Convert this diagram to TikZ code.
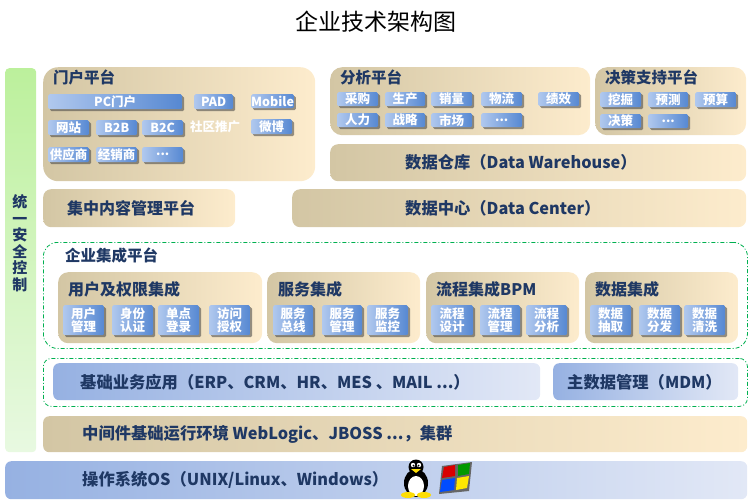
\documentclass[tikz,border=0pt]{standalone}
\usepackage{fontspec}
\setmainfont{Noto Sans CJK SC}
\usetikzlibrary{positioning, shadows}

\definecolor{navy}{RGB}{31,56,100}
\definecolor{tanL}{RGB}{211,198,164}
\definecolor{tanR}{RGB}{253,236,205}
\definecolor{blueL}{RGB}{150,177,226}
\definecolor{blueR}{RGB}{226,232,246}
\definecolor{btnL}{RGB}{176,200,238}
\definecolor{btnR}{RGB}{86,136,210}
\definecolor{greenT}{RGB}{188,240,156}
\definecolor{greenB}{RGB}{232,249,225}
\definecolor{frameC}{RGB}{0,176,80}

\tikzset{
	panel/.style={left color=tanL, right color=tanR, rounded corners=12pt, anchor=north west, inner sep=0pt},
	layer/.style={left color=blueL, right color=blueR, rounded corners=6pt, anchor=north west, inner sep=0pt},
	dashframe/.style={draw=frameC, line width=.8pt, dash pattern=on 4pt off 2pt on 1pt off 2pt, rounded corners=14pt, anchor=north west, inner sep=0pt},
	btn/.style={left color=btnL, right color=btnR, rounded corners=1.5pt, anchor=north west, inner sep=0pt,
		minimum width=41, minimum height=15, text=white, font=\fontsize{12.5}{13.5}\selectfont\bfseries,
		drop shadow={shadow xshift=2pt, shadow yshift=-2pt, opacity=.55, fill=black!75}},
	btnii/.style={btn, minimum height=30, align=center},
	head/.style={text=navy, font=\fontsize{15.5}{17}\selectfont\bfseries, anchor=west, inner sep=0pt},
	bar/.style={text=navy, font=\fontsize{16.3}{17}\selectfont\bfseries, anchor=west, inner sep=0pt}
}

\begin{document}
\begin{tikzpicture}[x=1pt, y=-1pt]
	\useasboundingbox (0,0) rectangle (752,499);
	\node[font=\fontsize{23}{25}\selectfont] (title) at (376,22) {企业技术架构图};
	% security bar
	\node[top color=greenT, bottom color=greenB, rounded corners=4pt, anchor=north west, minimum width=31, minimum height=384] (sec) at (5,68) {};
	\node[text=navy, font=\fontsize{15}{16.5}\selectfont\bfseries, align=center] (secT) at (20,243) {统\\一\\安\\全\\控\\制};
	% portal
	\node[panel, rounded corners=15pt, minimum width=272, minimum height=114] (portal) at (43,67) {};
	\node[head] (portalT) at (53,77) {门户平台};
	\node[btn, minimum width=134] (pc) at (48,94) {PC门户};
	\node[btn, minimum width=39] (pad) at (194,94) {PAD};
	\node[btn, minimum height=14] (mobile) at (251,94) {Mobile};
	\node[btn] (web) at (48,120) {网站};
	\node[btn] (b2b) at (96,120) {B2B};
	\node[btn] (b2c) at (142,120) {B2C};
	\node[text=white, font=\fontsize{12.5}{13.5}\selectfont\bfseries, inner sep=0pt] (promo) at (215,127) {社区推广};
	\node[btn] (weibo) at (251,119) {微博};
	\node[btn] (supplier) at (48,147) {供应商};
	\node[btn] (dealer) at (96,147) {经销商};
	\node[btn] (portalM) at (142,147) {...};
	% analysis
	\node[panel, minimum width=260, minimum height=68] (analysis) at (330,67) {};
	\node[head] (analysisT) at (340,77) {分析平台};
	\node[btn, minimum height=14] (buy) at (337,92) {采购};
	\node[btn, minimum height=14, minimum width=40] (prod) at (385,92) {生产};
	\node[btn, minimum height=14] (sales) at (431,92) {销量};
	\node[btn, minimum height=14] (logi) at (481,92) {物流};
	\node[btn, minimum height=14] (perf) at (538,92) {绩效};
	\node[btn, minimum height=14] (hr) at (337,113) {人力};
	\node[btn, minimum height=14, minimum width=40] (strat) at (385,113) {战略};
	\node[btn, minimum height=14] (market) at (431,113) {市场};
	\node[btn, minimum height=14] (analysisM) at (481,113) {...};
	% decision
	\node[panel, minimum width=151, minimum height=68] (decision) at (595,67) {};
	\node[head] (decisionT) at (605,77) {决策支持平台};
	\node[btn] (mining) at (600,92) {挖掘};
	\node[btn, minimum width=40] (forecast) at (648,92) {预测};
	\node[btn] (budget) at (695,92) {预算};
	\node[btn, minimum height=14] (decide) at (600,114) {决策};
	\node[btn, minimum height=14, minimum width=40] (decisionM) at (648,114) {...};
	% data warehouse, data center, cms
	\node[panel, rounded corners=8pt, minimum width=416, minimum height=37] (dw) at (330,144) {};
	\node[bar] (dwT) at (405,162) {数据仓库（Data Warehouse）};
	\node[panel, rounded corners=8pt, minimum width=454, minimum height=38] (dc) at (292,189) {};
	\node[bar] (dcT) at (405,208) {数据中心（Data Center）};
	\node[panel, rounded corners=8pt, minimum width=192, minimum height=38] (cms) at (43,189) {};
	\node[head, font=\fontsize{16}{17}\selectfont\bfseries] (cmsT) at (67,208) {集中内容管理平台};
	% enterprise integration
	\node[dashframe, minimum width=704, minimum height=106] (eip) at (43,242) {};
	\node[head] (eipT) at (65,256) {企业集成平台};
	\node[panel, rounded corners=10pt, minimum width=204, minimum height=71] (user) at (58,272) {};
	\node[head, font=\fontsize{16}{17}\selectfont\bfseries] (userT) at (68,289) {用户及权限集成};
	\node[btnii] (userMgmt) at (63,305) {用户\\管理};
	\node[btnii] (auth) at (112,305) {身份\\认证};
	\node[btnii] (sso) at (158,305) {单点\\登录};
	\node[btnii] (access) at (209,305) {访问\\授权};
	\node[panel, rounded corners=10pt, minimum width=153, minimum height=71] (svc) at (267,272) {};
	\node[head, font=\fontsize{16}{17}\selectfont\bfseries] (svcT) at (278,289) {服务集成};
	\node[btnii, minimum width=40] (bus) at (273,305) {服务\\总线};
	\node[btnii, minimum width=40] (svcMgmt) at (322,305) {服务\\管理};
	\node[btnii] (monitor) at (367,305) {服务\\监控};
	\node[panel, rounded corners=10pt, minimum width=153, minimum height=71] (bpm) at (426,272) {};
	\node[head, font=\fontsize{16}{17}\selectfont\bfseries] (bpmT) at (436,289) {流程集成BPM};
	\node[btnii, minimum width=42] (design) at (431,305) {流程\\设计};
	\node[btnii, minimum width=40] (flowMgmt) at (480,305) {流程\\管理};
	\node[btnii] (flowAna) at (526,305) {流程\\分析};
	\node[panel, rounded corners=10pt, minimum width=153, minimum height=71] (dint) at (585,272) {};
	\node[head, font=\fontsize{16}{17}\selectfont\bfseries] (dintT) at (595,289) {数据集成};
	\node[btnii] (extract) at (590,305) {数据\\抽取};
	\node[btnii] (dist) at (639,305) {数据\\分发};
	\node[btnii] (clean) at (684,305) {数据\\清洗};
	% base applications
	\node[dashframe, rounded corners=8pt, minimum width=704, minimum height=48] (apps) at (43,358) {};
	\node[layer, minimum width=487, minimum height=37] (erp) at (53,363) {};
	\node[bar] (erpT) at (80,382) {基础业务应用（ERP、CRM、HR、MES 、MAIL ...）};
	\node[layer, minimum width=185, minimum height=37] (mdm) at (553,363) {};
	\node[bar] (mdmT) at (567,382) {主数据管理（MDM）};
	% middleware and os
	\node[panel, rounded corners=6pt, minimum width=704, minimum height=36] (mw) at (43,416) {};
	\node[bar] (mwT) at (82,434) {中间件基础运行环境 WebLogic、JBOSS ...，集群};
	\node[layer, minimum width=742, minimum height=38] (os) at (5,461) {};
	\node[bar] (osT) at (82,480) {操作系统OS（UNIX/Linux、Windows）};
	% penguin
	\fill[black] (416,483) ellipse (12 and 14);
	\fill[black] (416,467) circle (7.5);
	\fill[white] (416,486) ellipse (8 and 10);
	\fill[white] (413,465) circle (2.2) (419,465) circle (2.2);
	\fill[black] (413.5,465.5) circle (1) (418.5,465.5) circle (1);
	\fill[yellow!80!orange] (411,469) -- (421,469) -- (416,473) -- cycle;
	\fill[yellow!80!orange] (408,495) ellipse (7 and 3) (424,495) ellipse (7 and 3);
	% windows flag
	\fill[black!60] (442,466) -- (472,462) -- (469,491) -- (439,494) -- cycle;
	\fill[red!85!black] (444,467) -- (455,465) -- (455,476) -- (442,478) -- cycle;
	\fill[green!60!black] (458,465) -- (470,463) -- (469,474) -- (458,476) -- cycle;
	\fill[blue!70!cyan] (442,480) -- (455,478) -- (454,490) -- (440,492) -- cycle;
	\fill[yellow!90!orange] (457,478) -- (469,476) -- (467,488) -- (456,490) -- cycle;
\end{tikzpicture}
\end{document}
